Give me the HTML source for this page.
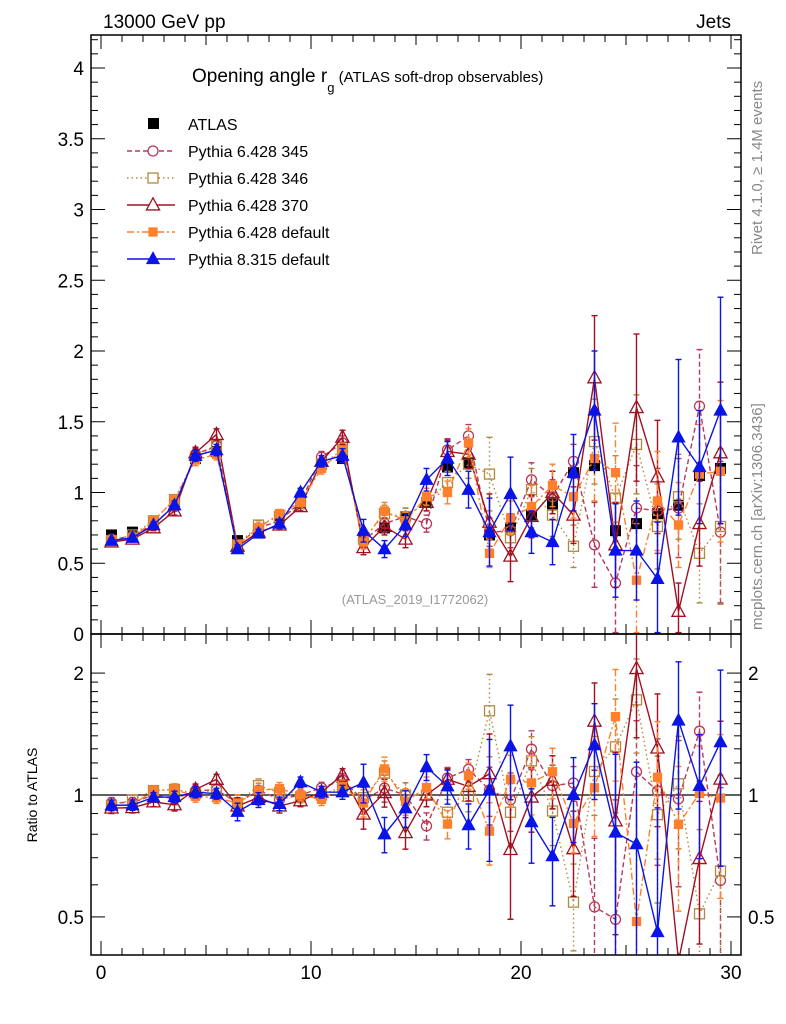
<!DOCTYPE html>
<html><head><meta charset="utf-8"><style>
html,body{margin:0;padding:0;background:#fff;overflow:hidden;width:786px;height:1024px}
svg{display:block;font-family:"Liberation Sans",Arial,sans-serif}
</style></head><body>
<svg id="c" width="786" height="1024" viewBox="0 0 786 1024" xmlns="http://www.w3.org/2000/svg">
<defs>
<clipPath id="cm"><rect x="91" y="35" width="650" height="599"/></clipPath>
<clipPath id="cr"><rect x="91" y="634" width="650" height="321"/></clipPath>
</defs>
<text x="103" y="28" font-size="19">13000 GeV pp</text>
<text x="731" y="28" font-size="19" text-anchor="end">Jets</text>
<text x="192" y="82" font-size="19">Opening angle r<tspan font-size="13" dy="10">g</tspan><tspan font-size="15" dy="-10"> (ATLAS soft-drop observables)</tspan></text>
<text x="415" y="604" font-size="13" fill="#999" text-anchor="middle">(ATLAS_2019_I1772062)</text>
<text transform="translate(762,255) rotate(-90)" font-size="15" fill="#888">Rivet 4.1.0, ≥ 1.4M events</text>
<text transform="translate(762,630) rotate(-90)" font-size="15" fill="#888">mcplots.cern.ch [arXiv:1306.3436]</text>
<text transform="translate(37,795) rotate(-90)" font-size="14" text-anchor="middle">Ratio to ATLAS</text>
<g id="axes"></g>
<g id="main" clip-path="url(#cm)"></g>
<g id="ratio" clip-path="url(#cr)"></g>
<g id="legend"></g>
<rect x="91" y="35" width="650" height="599" fill="none" stroke="#000" stroke-width="1.5"/>
<rect x="91" y="634" width="650" height="321" fill="none" stroke="#000" stroke-width="1.5"/>
</svg>
<script>
const bins = Array.from({length:30},(_,i)=>i+0.5);
const atlas = [0.70,0.72,0.78,0.92,1.24,1.29,0.66,0.73,0.82,0.93,1.20,1.24,0.68,0.75,0.83,0.93,1.18,1.21,0.70,0.75,0.84,0.92,1.14,1.19,0.73,0.78,0.85,0.91,1.12,1.17];
const atlasErr = [0.02,0.02,0.02,0.03,0.03,0.03,0.02,0.02,0.02,0.03,0.03,0.03,0.03,0.04,0.04,0.04,0.04,0.05,0.05,0.05,0.05,0.06,0.06,0.06,0.06,0.07,0.07,0.08,0.08,0.09];
const p345 = [0.67,0.69,0.78,0.90,1.27,1.33,0.63,0.75,0.80,0.93,1.25,1.35,0.66,0.78,0.83,0.78,1.30,1.40,0.72,0.73,1.09,0.97,1.22,0.63,0.36,0.89,0.87,0.89,1.61,0.72];
const p345Err = [0.02,0.02,0.02,0.03,0.04,0.04,0.03,0.03,0.03,0.03,0.04,0.05,0.05,0.06,0.06,0.06,0.08,0.08,0.1,0.12,0.12,0.12,0.12,0.3,0.35,0.3,0.3,0.35,0.4,0.5];
const p346 = [0.66,0.70,0.80,0.95,1.25,1.33,0.63,0.77,0.83,0.92,1.20,1.30,0.67,0.85,0.83,0.93,1.07,1.20,1.13,0.68,1.02,0.84,0.62,1.36,0.96,1.34,0.76,0.97,0.57,0.76];
const p346Err = [0.02,0.02,0.02,0.03,0.04,0.04,0.03,0.03,0.03,0.03,0.04,0.05,0.05,0.06,0.06,0.06,0.08,0.1,0.26,0.12,0.15,0.15,0.15,0.3,0.3,0.35,0.3,0.3,0.35,0.55];
const p370 = [0.65,0.67,0.75,0.87,1.28,1.41,0.62,0.72,0.77,0.90,1.22,1.39,0.61,0.76,0.67,0.93,1.29,1.27,0.79,0.55,0.83,1.00,0.84,1.81,0.63,1.60,1.11,0.16,0.78,1.28];
const p370Err = [0.02,0.02,0.02,0.03,0.04,0.04,0.03,0.03,0.03,0.03,0.04,0.05,0.05,0.06,0.06,0.06,0.08,0.1,0.2,0.18,0.15,0.15,0.2,0.44,0.3,0.52,0.4,0.2,0.3,0.5];
const p6def = [0.66,0.68,0.80,0.95,1.23,1.27,0.63,0.75,0.85,0.93,1.17,1.30,0.65,0.87,0.80,0.97,1.00,1.35,0.57,0.82,0.90,1.05,0.97,1.24,1.14,0.38,0.94,0.77,1.13,1.15];
const p6defErr = [0.02,0.02,0.02,0.03,0.04,0.04,0.03,0.03,0.03,0.03,0.04,0.05,0.05,0.06,0.06,0.06,0.08,0.1,0.1,0.12,0.15,0.15,0.15,0.3,0.35,0.4,0.35,0.3,0.35,0.5];
const p8 = [0.66,0.68,0.77,0.91,1.26,1.30,0.60,0.71,0.78,1.00,1.22,1.26,0.73,0.60,0.77,1.09,1.24,1.02,0.72,0.99,0.72,0.65,1.14,1.58,0.59,0.59,0.39,1.39,1.18,1.58];
const p8Err = [0.02,0.02,0.02,0.03,0.04,0.04,0.03,0.03,0.03,0.03,0.04,0.05,0.08,0.06,0.08,0.08,0.12,0.13,0.24,0.26,0.15,0.16,0.27,0.42,0.33,0.35,0.4,0.55,0.4,0.8];
const mainTicks = [0,0.5,1,1.5,2,2.5,3,3.5,4];
const mainTickLabels = ["0","0.5","1","1.5","2","2.5","3","3.5","4"];
const ratioTicks = [0.5,1,2];
const xTicks = [0,10,20,30];

const NS="http://www.w3.org/2000/svg";
const clamp=(v,a,b)=>Math.max(a,Math.min(b,v));
const X = v => 101 + v*21;
const Ym = v => clamp(634 - v*141.5, 30, 640);
const Yr = v => clamp(795 - Math.log10(Math.max(v,1e-3))*405, 628, 961);
function el(tag, attrs, parent){const e=document.createElementNS(NS,tag);for(const k in attrs)e.setAttribute(k,attrs[k]);parent.appendChild(e);return e;}
const axes=document.getElementById('axes');
for(let i=0;i<=42;i++){const v=i/10;const y=Ym(v);const L=(i%5===0)?14:7;
 el('line',{x1:91,x2:91+L,y1:y,y2:y,stroke:'#000','stroke-width':1},axes);
 el('line',{x1:741,x2:741-L,y1:y,y2:y,stroke:'#000','stroke-width':1},axes);}
mainTicks.forEach((v,i)=>{const t=el('text',{x:84,y:Ym(v)+7,'font-size':19,'text-anchor':'end'},axes);t.textContent=mainTickLabels[i];

});
for(let v=0.4;v<=2.5001;v+= (v<2?0.1:0.5)){const y=Yr(v);if(y<634||y>955)continue;const maj=[0.5,1,2].some(m=>Math.abs(m-v)<1e-6);const L=maj?14:7;
 el('line',{x1:91,x2:91+L,y1:y,y2:y,stroke:'#000','stroke-width':1},axes);
 el('line',{x1:741,x2:741-L,y1:y,y2:y,stroke:'#000','stroke-width':1},axes);}
ratioTicks.forEach(v=>{const a=el('text',{x:84,y:Yr(v)+7,'font-size':19,'text-anchor':'end'},axes);a.textContent=String(v);


const b=el('text',{x:748,y:Yr(v)+7,'font-size':19},axes);b.textContent=String(v);

});
for(let i=0;i<=30;i++){const x=X(i);const L=(i%10===0)?14:(i%5===0?10:7);
 [[955,-1],[634,1],[634,-1],[35,1]].forEach(([y0,d])=>el('line',{x1:x,x2:x,y1:y0,y2:y0+d*L,stroke:'#000','stroke-width':1},axes));}
xTicks.forEach(v=>{const t=el('text',{x:X(v),y:979,'font-size':19,'text-anchor':'middle'},axes);t.textContent=String(v);

});
el('line',{x1:91,x2:741,y1:Yr(1),y2:Yr(1),stroke:'#000','stroke-width':1.3},document.getElementById('ratio'));

const series=[
 {name:'pythia-6428-345',label:'Pythia 6.428 345',vals:p345,err:p345Err,color:'#b8385a',dash:'5,3',marker:'circle',fill:'none',size:10},
 {name:'pythia-6428-346',label:'Pythia 6.428 346',vals:p346,err:p346Err,color:'#b08a40',dash:'1.5,3',marker:'square',fill:'none',size:10},
 {name:'pythia-6428-370',label:'Pythia 6.428 370',vals:p370,err:p370Err,color:'#a01020',dash:'',marker:'triangle',fill:'none',size:11},
 {name:'pythia-6428-default',label:'Pythia 6.428 default',vals:p6def,err:p6defErr,color:'#ff7f2a',dash:'7,3,2,3',marker:'square',fill:'#ff7f2a',size:8},
 {name:'pythia-8315-default',label:'Pythia 8.315 default',vals:p8,err:p8Err,color:'#0a14e6',dash:'',marker:'triangle',fill:'#0a14e6',size:10}
];
function marker(g,type,x,y,color,fill,s){
 let m;
 if(type==='circle') m=el('circle',{cx:x,cy:y,r:s*0.5,fill:fill,stroke:color,'stroke-width':1.3},g);
 else if(type==='square') m=el('rect',{x:x-s/2,y:y-s/2,width:s,height:s,fill:fill,stroke:color,'stroke-width':1.3},g);
 else m=el('polygon',{points:`${x},${y-s*0.65} ${x-s*0.6},${y+s*0.45} ${x+s*0.6},${y+s*0.45}`,fill:fill,stroke:color,'stroke-width':1.3},g);
 return m;
}
function draw(panel,Y,ratio){
 const g=document.getElementById(panel);
 const ga=el('g',{},g);
 
 
 if(!ratio){
  bins.forEach((b,i)=>{
   el('line',{x1:X(b),x2:X(b),y1:Y(atlas[i]-atlasErr[i]),y2:Y(atlas[i]+atlasErr[i]),stroke:'#000','stroke-width':1.3},ga);
   const m=el('rect',{x:X(b)-5.5,y:Y(atlas[i])-5.5,width:11,height:11,fill:'#000'},ga);
   
   
  });
 }
 series.forEach(s=>{
  const gs=el('g',{},g);
  
  
  const v=s.vals.map((x,i)=>ratio?x/atlas[i]:x);
  const e=s.err.map((x,i)=>ratio?x/atlas[i]:x);
  el('polyline',{points:bins.map((b,i)=>X(b)+','+Y(v[i])).join(' '),fill:'none',stroke:s.color,'stroke-width':1.4,'stroke-dasharray':s.dash},gs);
  bins.forEach((b,i)=>{
   const lo=Math.max(v[i]-e[i],0.01);
   el('line',{x1:X(b),x2:X(b),y1:Y(lo),y2:Y(v[i]+e[i]),stroke:s.color,'stroke-width':1.4,'stroke-dasharray':s.dash},gs);
   el('line',{x1:X(b)-3,x2:X(b)+3,y1:Y(lo),y2:Y(lo),stroke:s.color,'stroke-width':1.4},gs);
   el('line',{x1:X(b)-3,x2:X(b)+3,y1:Y(v[i]+e[i]),y2:Y(v[i]+e[i]),stroke:s.color,'stroke-width':1.4},gs);
   const m=marker(gs,s.marker,X(b),Y(v[i]),s.color,s.fill==='none'?'none':s.fill,s.size);
   
   
  });
 });
}
draw('main',Ym,false);
draw('ratio',Yr,true);
const lg=document.getElementById('legend');
const l0=el('rect',{x:148,y:118,width:11,height:11,fill:'#000'},lg);


const t0=el('text',{x:188,y:130,'font-size':16},lg);t0.textContent='ATLAS';


series.forEach((s,k)=>{
 const y=151+k*27;
 el('line',{x1:127,x2:175,y1:y,y2:y,stroke:s.color,'stroke-width':1.4,'stroke-dasharray':s.dash},lg);
 const m=marker(lg,s.marker,153,y,s.color,s.fill==='none'?'#fff':s.fill,s.size);
 
 
 const t=el('text',{x:188,y:y+6,'font-size':16},lg);t.textContent=s.label;
 
 
});
</script>
</body></html>
